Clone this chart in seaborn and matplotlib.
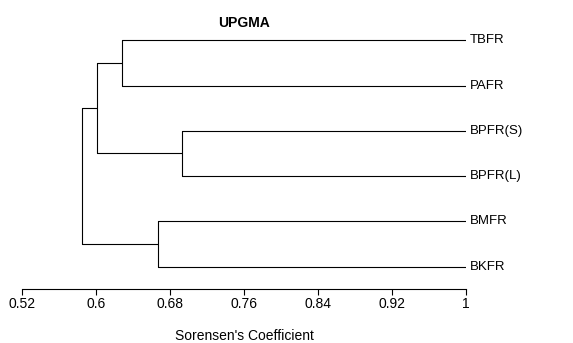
import pandas as pd
import seaborn as sns
import matplotlib.pyplot as plt

# leaves top to bottom
leaves = ["TBFR", "PAFR", "BPFR(S)", "BPFR(L)", "BMFR", "BKFR"]
# merges: node ids 6.. in order (children refer to leaf index or earlier node id)
merge_left = [0, 2, 4, 6, 9]
merge_right = [1, 3, 5, 7, 8]
merge_height = [0.628, 0.693, 0.667, 0.601, 0.585]
leaf_height = 1.0

tick_vals = [0.52, 0.6, 0.68, 0.76, 0.84, 0.92, 1.0]
tick_labels = ["0.52", "0.6", "0.68", "0.76", "0.84", "0.92", "1"]

# build line segments of the dendrogram
pos = {i: (leaf_height, float(i)) for i in range(len(leaves))}
rows = []
seg = 0
for k, (a, b, h) in enumerate(zip(merge_left, merge_right, merge_height)):
    node = len(leaves) + k
    (ha, ya), (hb, yb) = pos[a], pos[b]
    for xs, ys in [((ha, h), (ya, ya)), ((hb, h), (yb, yb)), ((h, h), (ya, yb))]:
        for x, y in zip(xs, ys):
            rows.append({"seg": seg, "x": x, "y": y})
        seg += 1
    pos[node] = (h, (ya + yb) / 2)
df = pd.DataFrame(rows)

sns.set_style("white")
plt.rcParams["font.family"] = ["Liberation Sans", "DejaVu Sans"]
plt.rcParams["text.color"] = "black"
plt.rcParams["axes.labelcolor"] = "black"
plt.rcParams["xtick.color"] = "black"

fig = plt.figure(figsize=(5.73, 3.43), dpi=100)
ax = fig.add_axes([22 / 573, 1 - 289 / 343, 444 / 573, 259 / 343])

sns.lineplot(data=df, x="x", y="y", units="seg", estimator=None, sort=False,
             color="black", linewidth=0.8, ax=ax)

for i, name in enumerate(leaves):
    ax.text(1.0045, i, name, va="center", ha="left", fontsize=9.5)

ax.set_xlim(0.52, 1.0)
ax.set_ylim(5.493, -0.2275)
ax.set_xticks(tick_vals)
ax.set_xticklabels(tick_labels, fontsize=10)
ax.set_yticks([])
ax.tick_params(axis="x", direction="out", length=4, width=0.8, pad=2, bottom=True)
for s in ["top", "right", "left"]:
    ax.spines[s].set_visible(False)
ax.spines["bottom"].set_linewidth(0.8)
ax.spines["bottom"].set_color("black")
ax.set_ylabel("")
ax.set_xlabel("Sorensen's Coefficient", fontsize=10, labelpad=13)
ax.set_title("UPGMA", fontsize=10, fontweight="bold", pad=2)

fig.savefig("out.png", dpi=100)
